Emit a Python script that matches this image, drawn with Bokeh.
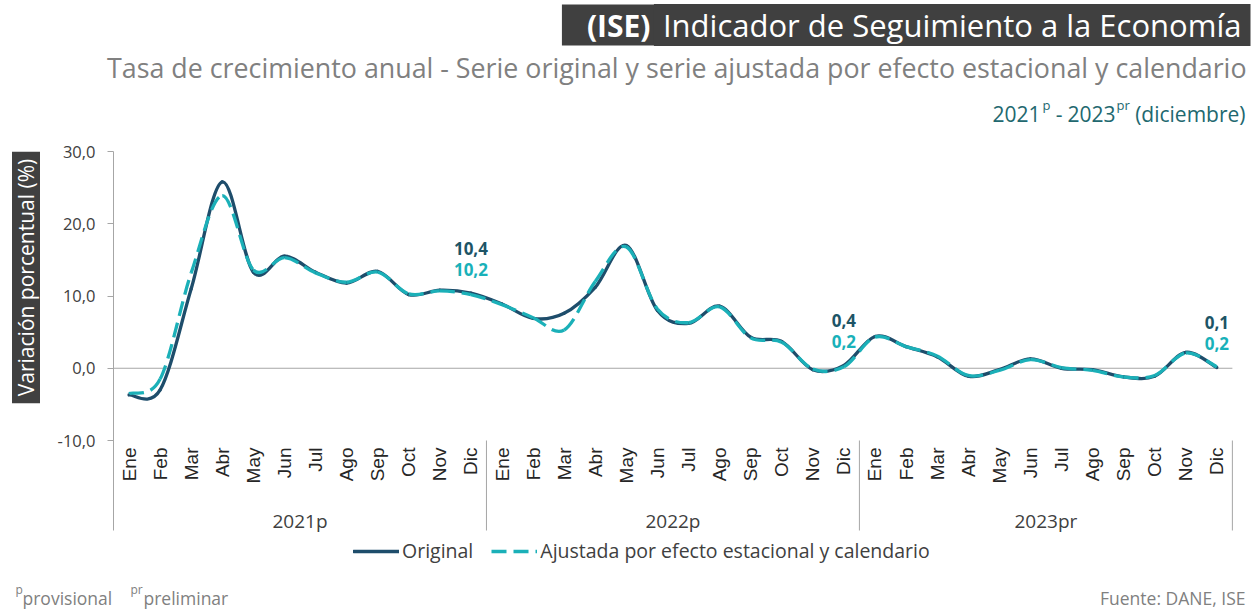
from math import pi
from bokeh.plotting import figure
from bokeh.models import (Range1d, FixedTicker, Label, Legend, LegendItem,
                          ColumnDataSource, LinearAxis)
from bokeh.core.properties import value
from bokeh.embed import file_html
from bokeh.resources import INLINE

# ---------------- data ----------------
months = ["Ene", "Feb", "Mar", "Abr", "May", "Jun", "Jul", "Ago", "Sep", "Oct", "Nov", "Dic"]
years = ["2021p", "2022p", "2023pr"]

original = [
    -3.7, -3.0, 11.0, 25.8, 13.3, 15.5, 13.3, 11.8, 13.4, 10.2, 10.8, 10.4,
    8.9, 6.9, 7.6, 11.2, 17.0, 8.0, 6.2, 8.6, 4.3, 3.7, -0.2, 0.4,
    4.4, 3.0, 1.6, -1.1, -0.2, 1.3, 0.0, -0.2, -1.2, -1.1, 2.2, 0.1]

adjusted = [
    -3.5, -1.5, 13.2, 23.9, 13.6, 15.3, 13.2, 11.9, 13.3, 10.3, 10.7, 10.2,
    8.8, 7.0, 5.3, 12.0, 16.8, 8.2, 6.3, 8.5, 4.2, 3.6, -0.1, 0.2,
    4.3, 3.0, 1.7, -1.0, -0.3, 1.2, 0.1, -0.3, -1.2, -1.0, 2.1, 0.2]

y_ticks = [-10, 0, 10, 20, 30]

series_names = ["Original", "Ajustada por efecto estacional y calendario"]

# ---------------- styles / layout ----------------
C_ORIG = "#1e4d6b"
C_ADJ = "#1bb0b8"
C_ORIG_LBL = "#1d5466"
C_ADJ_LBL = "#19b1b9"
C_TEAL = "#22686f"
GRAY = "#a6a6a6"
TXT = "#404040"
FOOT = "#808080"

n_m = len(months)
n = n_m * len(years)
xs = list(range(n))

W, H = 1257, 609
PX_LEFT, UNIT_X = 113.0, 31.08                  # x = -0.5 at PX_LEFT
PY_TOP, PY_M10, PY_BOT = 151.0, 440.0, 530.0    # y=30, y=-10, bottom of category band
UNIT_Y = (PY_M10 - PY_TOP) / (y_ticks[-1] - y_ticks[0])
x_start = -0.5 - PX_LEFT / UNIT_X
x_end = x_start + W / UNIT_X
y_end = y_ticks[-1] + PY_TOP / UNIT_Y
y_start = y_end - H / UNIT_Y
Y_BAND = y_ticks[0] - (PY_BOT - PY_M10) / UNIT_Y

p = figure(width=W, height=H, output_backend="svg", toolbar_location=None,
           x_range=Range1d(x_start, x_end), y_range=Range1d(y_start, y_end),
           x_axis_location=None, y_axis_location=None,
           min_border_left=0, min_border_right=0, min_border_top=0, min_border_bottom=0)
p.outline_line_color = None
p.xgrid.visible = False
p.ygrid.visible = False
p.background_fill_color = "white"
p.border_fill_color = "white"

# y axis, fixed at the left edge of the category area
yax = LinearAxis(fixed_location=-0.5, bounds=(Y_BAND, y_ticks[-1]))
yax.ticker = FixedTicker(ticks=y_ticks)
yax.major_label_overrides = {t: f"{t:.1f}".replace(".", ",") for t in y_ticks}
yax.axis_line_color = GRAY
yax.major_tick_line_color = GRAY
yax.minor_tick_line_color = None
yax.major_tick_out = 6
yax.major_tick_in = 0
yax.major_label_standoff = 12
yax.major_label_text_font = "Open Sans"
yax.major_label_text_font_size = "16.5px"
yax.major_label_text_color = TXT
p.add_layout(yax, "left")

# zero line across the category area
p.segment(x0=[-0.5], y0=[0], x1=[n - 0.5], y1=[0], line_color=GRAY, line_width=1)


def bezier_source(xv, yv):
    d = dict(x0=[], y0=[], x1=[], y1=[], cx0=[], cy0=[], cx1=[], cy1=[])
    m = len(xv)
    for i in range(m - 1):
        im = i - 1 if i > 0 else i
        ip = i + 2 if i + 2 < m else i + 1
        d["x0"].append(xv[i]); d["y0"].append(yv[i])
        d["x1"].append(xv[i + 1]); d["y1"].append(yv[i + 1])
        d["cx0"].append(xv[i] + (xv[i + 1] - xv[im]) / 6)
        d["cy0"].append(yv[i] + (yv[i + 1] - yv[im]) / 6)
        d["cx1"].append(xv[i + 1] - (xv[ip] - xv[i]) / 6)
        d["cy1"].append(yv[i + 1] - (yv[ip] - yv[i]) / 6)
    return ColumnDataSource(d)


r1 = p.bezier(x0="x0", y0="y0", x1="x1", y1="y1", cx0="cx0", cy0="cy0", cx1="cx1", cy1="cy1",
              source=bezier_source(xs, original), line_color=C_ORIG, line_width=3.3,
              line_cap="round")
r2 = p.bezier(x0="x0", y0="y0", x1="x1", y1="y1", cx0="cx0", cy0="cy0", cx1="cx1", cy1="cy1",
              source=bezier_source(xs, adjusted), line_color=C_ADJ, line_width=3.3,
              line_dash="15 7")

# month labels
p.text(x=xs, y=[y_ticks[0]] * n, text=months * len(years), angle=pi / 2,
       text_align="right", text_baseline="middle", y_offset=7,
       text_font=value("Liberation Sans"), text_font_size="19px", text_color="#262626")

# year group labels and separators
grp_x = [k * n_m + (n_m - 1) / 2 for k in range(len(years))]
p.text(x=grp_x, y=[y_ticks[0]] * len(years), text=years, text_align="center",
       text_baseline="middle", y_offset=80, text_font=value("Open Sans"),
       text_font_size="19px", text_color=TXT)
sep_x = [(k + 1) * n_m - 0.5 for k in range(len(years))]
p.segment(x0=sep_x, y0=[y_ticks[0]] * len(sep_x), x1=sep_x, y1=[Y_BAND] * len(sep_x),
          line_color=GRAY, line_width=1)

# data labels at December of each year
dec_idx = [(k + 1) * n_m - 1 for k in range(len(years))]
fmt = lambda v: f"{v:.1f}".replace(".", ",")
p.text(x=dec_idx, y=[original[i] for i in dec_idx], text=[fmt(original[i]) for i in dec_idx],
       text_align="center", text_baseline="middle", y_offset=-45,
       text_font=value("Open Sans"), text_font_style="bold", text_font_size="17px",
       text_color=C_ORIG_LBL)
p.text(x=dec_idx, y=[original[i] for i in dec_idx], text=[fmt(adjusted[i]) for i in dec_idx],
       text_align="center", text_baseline="middle", y_offset=-24,
       text_font=value("Open Sans"), text_font_style="bold", text_font_size="17px",
       text_color=C_ADJ_LBL)

# legend
legend = Legend(items=[LegendItem(label=series_names[0], renderers=[r1]),
                       LegendItem(label=series_names[1], renderers=[r2])],
                orientation="horizontal", location=(353, H - 564),
                label_text_font="Open Sans", label_text_font_size="19.5px",
                label_text_color=TXT, glyph_width=46, glyph_height=20,
                label_standoff=3, spacing=18, padding=0, margin=0,
                border_line_color=None, background_fill_alpha=0)
p.add_layout(legend)


# ---------------- screen-positioned texts (page pixels) ----------------
def lab(text, px, py, **kw):
    p.add_layout(Label(x=px, y=H - py, x_units="screen", y_units="screen", text=text, **kw))


# y axis title
lab("Variación porcentual (%)", 25.5, 277, angle=pi / 2, text_align="center",
    text_baseline="middle", text_font="Open Sans", text_font_size="21px",
    text_color="white", background_fill_color="#404040", padding=(7, 0))

# title line 1 (bold part first; the second box covers its right padding)
lab("(ISE)", 675, 24.5, text_align="right", text_baseline="middle", text_font="Open Sans",
    text_font_style="bold", text_font_size="30px", text_color="white",
    background_fill_color="#404040", padding=(25, 0))
lab("Indicador de Seguimiento a la Economía", 1250, 24.5, text_align="right",
    text_baseline="middle", text_font="Open Sans", text_font_size="31px",
    text_color="white", background_fill_color="#404040", padding=(9, 0))

# title line 2
lab("Tasa de crecimiento anual - Serie original y serie ajustada por efecto estacional y calendario",
    1246, 67, text_align="right", text_baseline="middle", text_font="Open Sans",
    text_font_size="26.8px", text_color="#808080")

# title line 3
for txt, px, py, fs, al in [("2021", 1040, 113, "21px", "right"),
                            ("p", 1042, 104, "13px", "left"),
                            ("-", 1062, 113, "21px", "right"),
                            ("2023", 1115, 113, "21px", "right"),
                            ("pr", 1116, 104, "13px", "left"),
                            ("(diciembre)", 1245, 113, "21px", "right")]:
    lab(txt, px, py, text_align=al, text_baseline="alphabetic", text_font="Open Sans",
        text_font_size=fs, text_color=C_TEAL)

# footer
for txt, px, py, fs in [("p", 15, 589, "12px"), ("provisional", 22, 597, "17.5px"),
                        ("pr", 130, 589, "12px"), ("preliminar", 143, 597, "17.5px")]:
    lab(txt, px, py, text_align="left", text_baseline="alphabetic", text_font="Open Sans",
        text_font_size=fs, text_color=FOOT)
lab("Fuente: DANE, ISE", 1245, 597, text_align="right", text_baseline="alphabetic",
    text_font="Open Sans", text_font_size="17.5px", text_color=FOOT)

open("out.html", "w").write(file_html(p, INLINE))
